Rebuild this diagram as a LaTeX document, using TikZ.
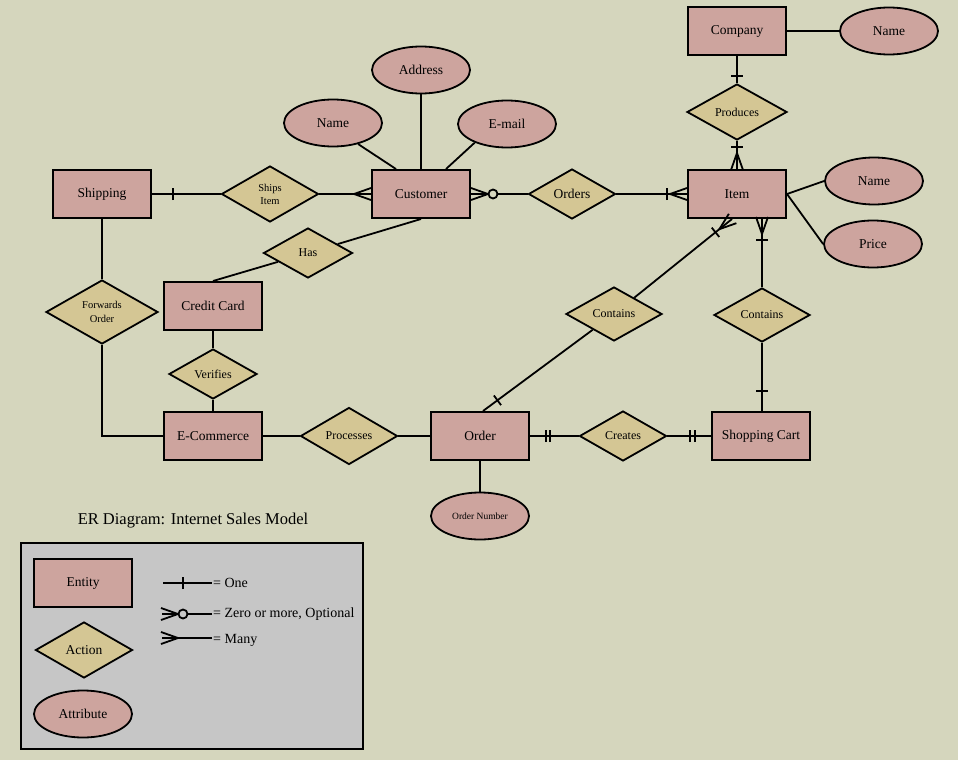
\documentclass[tikz,border=0pt]{standalone}
\usepackage{fontspec}
\setmainfont{Liberation Serif}
\usetikzlibrary{shapes.geometric, decorations.markings, positioning}

\definecolor{bgcol}{RGB}{213,214,189}
\definecolor{entcol}{RGB}{205,164,158}
\definecolor{actcol}{RGB}{212,198,148}
\definecolor{legcol}{RGB}{198,198,198}

\tikzset{
  entitybox/.style={draw, line width=2pt, fill=entcol, minimum width=98pt,
    minimum height=48pt, inner sep=1pt, font=\fontsize{13.5}{16}\selectfont},
  actiondiamond/.style={draw, diamond, aspect=1.75, line width=1.8pt, fill=actcol,
    minimum width=97pt, minimum height=56pt, inner sep=0pt, align=center,
    font=\fontsize{12}{14}\selectfont},
  attribellipse/.style={draw, ellipse, line width=1.8pt, fill=entcol, minimum width=98pt,
    minimum height=47pt, inner sep=0pt, font=\fontsize{13.5}{16}\selectfont},
  connector/.style={line width=1.8pt},
  legendtext/.style={inner sep=1pt, font=\fontsize{14}{16}\selectfont},
  one at/.style={postaction={decorate, decoration={markings,
      mark=at position #1 with {\draw[connector] (0pt,-6pt) -- (0pt,6pt);}}}},
  many at/.style={postaction={decorate, decoration={markings,
      mark=at position #1 with {\draw[connector] (17pt,-6pt) -- (0pt,0pt) -- (17pt,6pt);}}}},
  zero at/.style 2 args={postaction={decorate, decoration={markings,
      mark=at position #1 with {\draw[connector, fill=#2] (0pt,0pt) circle (4.5pt);}}}},
}

\begin{document}
\begin{tikzpicture}[x=1pt, y=-1pt]
  \fill[bgcol] (0,0) rectangle (958,760);
  \useasboundingbox (0,0) rectangle (958,760);

  % entities
  \node[entitybox] (company) at (737,31) {Company};
  \node[entitybox] (item) at (737,194) {Item};
  \node[entitybox] (customer) at (421,194) {Customer};
  \node[entitybox] (shipping) at (102,194) {Shipping};
  \node[entitybox] (creditcard) at (213,306) {Credit Card};
  \node[entitybox] (ecommerce) at (213,436) {E-Commerce};
  \node[entitybox] (order) at (480,436) {Order};
  \node[entitybox] (cart) at (761,436) {Shopping Cart};

  % attributes
  \node[attribellipse] (compname) at (889,31) {Name};
  \node[attribellipse] (itemname) at (874,181) {Name};
  \node[attribellipse] (price) at (873,244) {Price};
  \node[attribellipse] (address) at (421,70) {Address};
  \node[attribellipse] (custname) at (333,123) {Name};
  \node[attribellipse] (email) at (507,124) {E-mail};
  \node[attribellipse, font=\fontsize{9.5}{11}\selectfont] (ordernumber) at (480,516) {Order Number};

  % actions
  \node[actiondiamond, minimum width=100pt] (produces) at (737,112) {Produces};
  \node[actiondiamond, font=\fontsize{10.5}{13}\selectfont] (shipsitem) at (270,194) {Ships\\Item};
  \node[actiondiamond, minimum width=87pt, minimum height=50pt,
    font=\fontsize{13.5}{16}\selectfont] (orders) at (572,194) {Orders};
  \node[actiondiamond, minimum width=89pt, minimum height=50pt] (has) at (308,253) {Has};
  \node[actiondiamond, minimum width=112pt, minimum height=64pt,
    font=\fontsize{10.5}{14}\selectfont] (forwards) at (102,312) {Forwards\\Order};
  \node[actiondiamond, minimum width=88pt, minimum height=50pt] (verifies) at (213,374) {Verifies};
  \node[actiondiamond, minimum height=57pt] (processes) at (349,436) {Processes};
  \node[actiondiamond, minimum width=87pt, minimum height=50pt] (creates) at (623,436) {Creates};
  \node[actiondiamond, minimum width=96pt, minimum height=54pt] (contains1) at (614,314) {Contains};
  \node[actiondiamond, minimum width=96pt, minimum height=54pt] (contains2) at (762,315) {Contains};

  % relationships
  \draw[connector, one at=21pt] (shipping) -- (shipsitem);
  \draw[connector, many at=-17pt] (shipsitem) -- (customer);
  \draw[connector, many at=-17pt, zero at={-22pt}{bgcol}] (orders) -- (customer);
  \draw[connector, one at=-20pt, many at=-17pt] (orders) -- (item);
  \draw[connector] (company) -- (compname);
  \draw[connector, one at=-7pt] (company) -- (produces);
  \draw[connector, one at=-22pt, many at=-16pt] (produces) -- (item);
  \draw[connector] (item.east) -- (itemname.west);
  \draw[connector] (item.east) -- (price.west);
  \draw[connector, one at=-21pt, many at=-15pt] (contains2) -- (contains2 |- item.south);
  \draw[connector, one at=-20pt] (contains2) -- (contains2 |- cart.north);
  \draw[connector, one at=-21pt, many at=-16pt] (contains1) -- ([xshift=-5pt]item.south);
  \draw[connector, one at=-18pt] (contains1) -- ([xshift=3pt]order.north);
  \draw[connector, one at=16pt, one at=20pt] (order) -- (creates);
  \draw[connector, one at=-16pt, one at=-21pt] (creates) -- (cart);
  \draw[connector] (order) -- (ordernumber);
  \draw[connector] (ecommerce) -- (processes);
  \draw[connector] (processes) -- (order);
  \draw[connector] (creditcard) -- (verifies);
  \draw[connector] (verifies) -- (ecommerce);
  \draw[connector] (shipping) -- (forwards);
  \draw[connector] (forwards) |- (ecommerce);
  \draw[connector] (customer.south) -- (has);
  \draw[connector] (has) -- (creditcard.north);
  \draw[connector] (address) -- (customer);
  \draw[connector] (custname.-40) -- ([xshift=-25pt]customer.north);
  \draw[connector] (email.-150) -- ([xshift=25pt]customer.north);

  % legend
  \node[font=\fontsize{16.5}{19}\selectfont] (title) at (193,521) {ER Diagram: Internet Sales Model};
  \draw[line width=2pt, fill=legcol] (21,543) rectangle (363,749);
  \node[entitybox] (legentity) at (83,583) {Entity};
  \node[actiondiamond, font=\fontsize{13.5}{16}\selectfont] (legaction) at (84,650) {Action};
  \node[attribellipse] (legattr) at (83,714) {Attribute};
  \coordinate (onea) at (163,583);
  \coordinate (oneb) at (212,583);
  \coordinate (zeroa) at (162,614);
  \coordinate (zerob) at (212,614);
  \coordinate (manya) at (162,638);
  \coordinate (manyb) at (212,638);
  \draw[connector, one at=20pt] (onea) -- (oneb);
  \draw[connector, many at=-16pt, zero at={-21pt}{legcol}] (zerob) -- (zeroa);
  \draw[connector, many at=-16pt] (manyb) -- (manya);
  \node[legendtext, right=0pt of oneb] (onetext) {= One};
  \node[legendtext, right=0pt of zerob] (zerotext) {= Zero or more, Optional};
  \node[legendtext, right=0pt of manyb, yshift=-2pt] (manytext) {= Many};
\end{tikzpicture}
\end{document}
